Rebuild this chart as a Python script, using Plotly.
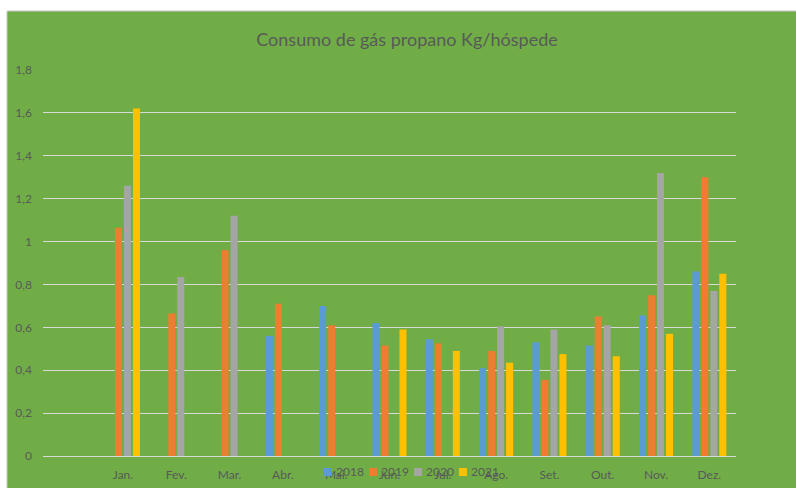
import plotly.graph_objects as go

# Monthly propane consumption per guest (kg), one series per year
months = ["Jan.", "Fev.", "Mar.", "Abr.", "Mai.", "Jun.", "Jul.", "Ago.", "Set.", "Out.", "Nov.", "Dez."]
years = ["2018", "2019", "2020", "2021"]

v2018 = [None, None, None, 0.56, 0.70, 0.62, 0.545, 0.41, 0.53, 0.515, 0.655, 0.86]
v2019 = [1.065, 0.665, 0.96, 0.71, 0.61, 0.515, 0.525, 0.49, 0.355, 0.65, 0.75, 1.30]
v2020 = [1.26, 0.835, 1.12, None, None, None, None, 0.605, 0.59, 0.61, 1.32, 0.77]
v2021 = [1.62, None, None, None, None, 0.59, 0.49, 0.435, 0.475, 0.465, 0.57, 0.85]

series = [v2018, v2019, v2020, v2021]
colors = ["#5B9BD5", "#ED7D31", "#A5A5A5", "#FFC000"]

y_ticks = [0, 0.2, 0.4, 0.6, 0.8, 1, 1.2, 1.4, 1.6, 1.8]
y_tick_text = ["0", "0,2", "0,4", "0,6", "0,8", "1", "1,2", "1,4", "1,6", "1,8"]

text_color = "#595959"
green = "#70AD47"
font_family = "Lato"

# plot area in pixels
W, H = 796, 488
L, R, T, B = 43, 60, 70, 32
PW, PH = W - L - R, H - T - B


def px(xpix):
    return (xpix - L) / PW


def py(ypix):
    return (H - B - ypix) / PH


fig = go.Figure()
for name, vals, col in zip(years, series, colors):
    fig.add_trace(go.Bar(x=months, y=vals, name=name, marker=dict(color=col, line=dict(width=0))))

# background card
shapes = [
    dict(
        type="rect", xref="paper", yref="paper",
        x0=px(7), x1=px(W + 4), y0=py(H + 4), y1=py(11),
        fillcolor=green, line=dict(color="#C9C9C9", width=1), layer="below",
    )
]

# compact legend row under the axis
annotations = []
for i, (name, col) in enumerate(zip(years, colors)):
    x0 = 324 + 45 * i
    shapes.append(dict(
        type="rect", xref="paper", yref="paper",
        x0=px(x0), x1=px(x0 + 8), y0=py(476), y1=py(468),
        fillcolor=col, line=dict(width=0), layer="above",
    ))
    annotations.append(dict(
        text=name, xref="paper", yref="paper",
        x=px(x0 + 10), y=py(472), xanchor="left", yanchor="middle",
        showarrow=False, font=dict(family=font_family, size=12, color=text_color),
    ))

fig.update_layout(
    width=W,
    height=H,
    margin=dict(l=L, r=R, t=T, b=B, autoexpand=False),
    paper_bgcolor="white",
    plot_bgcolor="rgba(0,0,0,0)",
    barmode="group",
    bargap=0.325,
    bargroupgap=0.22,
    font=dict(family=font_family, color=text_color, size=12),
    title=dict(
        text="Consumo de gás propano Kg/hóspede",
        xref="container",
        x=407 / W,
        xanchor="center",
        yref="container",
        y=1 - 40 / H,
        yanchor="middle",
        font=dict(family=font_family, size=18, color=text_color),
    ),
    showlegend=False,
    shapes=shapes,
    annotations=annotations,
)

fig.update_xaxes(
    type="category",
    range=[-1.5, 11.5],
    showgrid=False,
    showline=True,
    linecolor="#D9D9D9",
    linewidth=1,
    ticks="",
    ticklabelstandoff=8,
    tickfont=dict(family=font_family, size=12, color=text_color),
    zeroline=False,
)

fig.update_yaxes(
    range=[0, 1.8],
    tickvals=y_ticks,
    ticktext=y_tick_text,
    showgrid=True,
    gridcolor="#D9D9D9",
    gridwidth=1,
    zeroline=False,
    showline=False,
    ticks="",
    ticklabelstandoff=10,
    tickfont=dict(family=font_family, size=12, color=text_color),
)

fig.write_html("out.html")
